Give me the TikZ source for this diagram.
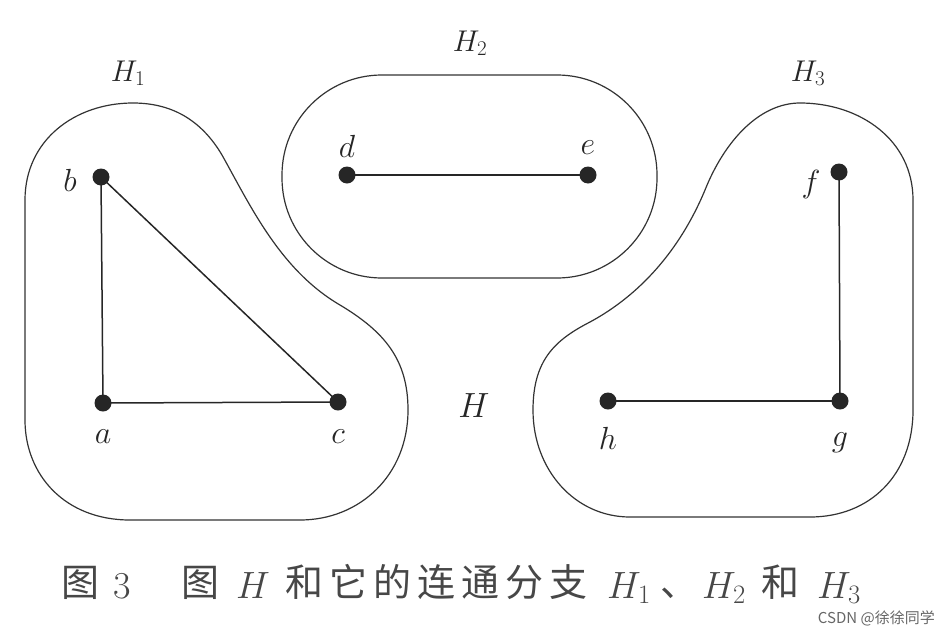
\RequirePackage{fix-cm}
\documentclass[tikz,border=0pt]{standalone}
\usepackage{fontspec}
\newfontfamily\cjk{Noto Sans CJK SC}
\begin{document}
\begin{tikzpicture}[x=1pt,y=-1pt,
  dot/.style={circle,fill=black!85,inner sep=0pt,minimum size=17pt},
  edge/.style={line width=1.5pt,black!85},
  blob/.style={line width=1.2pt,black!80},
  lbl/.style={inner sep=0pt,font=\fontsize{32}{34}\selectfont,black!85},
  hlbl/.style={inner sep=0pt,font=\fontsize{30}{32}\selectfont,black!85},
  capz/.style={inner sep=0pt,anchor=base west,font=\cjk\fontsize{38}{40}\selectfont,black!72},
  capm/.style={inner sep=0pt,anchor=base west,font=\fontsize{38}{40}\selectfont,black!72},
]
\useasboundingbox (0,0) rectangle (949,640);
% outlines
\draw[blob] (25,200) .. controls (25,140) and (75,103) .. (133,103)
  .. controls (175,103) and (203,123) .. (222,155)
  .. controls (250,205) and (280,270) .. (340,305)
  .. controls (385,332) and (408,360) .. (408,410)
  .. controls (408,475) and (360,520) .. (300,520)
  -- (130,520)
  .. controls (65,520) and (25,475) .. (25,420) -- cycle;
\draw[blob,rounded corners=100pt] (282,75) rectangle (657,278);
\draw[blob] (913,200) -- (913,410)
  .. controls (913,475) and (870,517) .. (810,517)
  -- (630,517)
  .. controls (575,517) and (533,470) .. (533,410)
  .. controls (533,360) and (555,340) .. (590,322)
  .. controls (640,295) and (680,250) .. (705,190)
  .. controls (725,140) and (760,103) .. (800,103)
  .. controls (860,103) and (913,140) .. (913,200) -- cycle;
% vertices
\node[dot] (a) at (103,403) {};
\node[dot] (b) at (101,177) {};
\node[dot] (c) at (338,402) {};
\node[dot] (d) at (347,175) {};
\node[dot] (e) at (588,175) {};
\node[dot] (f) at (839,172) {};
\node[dot] (g) at (840,401) {};
\node[dot] (h) at (608,401) {};
% edges
\draw[edge] (a.center) -- (b.center);
\draw[edge] (b.center) -- (c.center);
\draw[edge] (a.center) -- (c.center);
\draw[edge] (d.center) -- (e.center);
\draw[edge] (f.center) -- (g.center);
\draw[edge] (h.center) -- (g.center);
% labels
\node[lbl] (la) at (103,437) {$a$};
\node[lbl] (lb) at (70,180) {$b$};
\node[lbl] (lc) at (338,437) {$c$};
\node[lbl] (ld) at (347,146) {$d$};
\node[lbl] (le) at (588,148) {$e$};
\node[lbl] (lf) at (811,184) {$f$};
\node[lbl] (lg) at (840,443) {$g$};
\node[lbl] (lh) at (608,438) {$h$};
\node[hlbl] (H1) at (128,73) {$H_{1}$};
\node[hlbl] (H2) at (470,43) {$H_{2}$};
\node[hlbl] (H3) at (808,73) {$H_{3}$};
\node[lbl,font=\fontsize{35}{37}\selectfont] (H) at (474,406) {$H$};
% caption
\node[capz] (k1) at (61,596) {图};
\node[capm] (k2) at (113,598) {3};
\node[capz] (k3) at (181,596) {图};
\node[capm] (k4) at (236,598) {$H$};
\node[capz] (k5) at (285,596) {和};
\node[capz] (k6) at (329,596) {它};
\node[capz] (k7) at (373,596) {的};
\node[capz] (k8) at (417,596) {连};
\node[capz] (k9) at (461,596) {通};
\node[capz] (k10) at (505,596) {分};
\node[capz] (k11) at (549,596) {支};
\node[capm] (k12) at (607,598) {$H_{1}$};
\node[capz] (k13) at (660,596) {、};
\node[capm] (k14) at (702,598) {$H_{2}$};
\node[capz] (k15) at (761,596) {和};
\node[capm] (k16) at (817,598) {$H_{3}$};
\node[inner sep=0pt,font=\cjk\fontsize{15}{17}\selectfont,black!60,anchor=east] (wm) at (935,618)
  {CSDN @徐徐同学};
\end{tikzpicture}
\end{document}
